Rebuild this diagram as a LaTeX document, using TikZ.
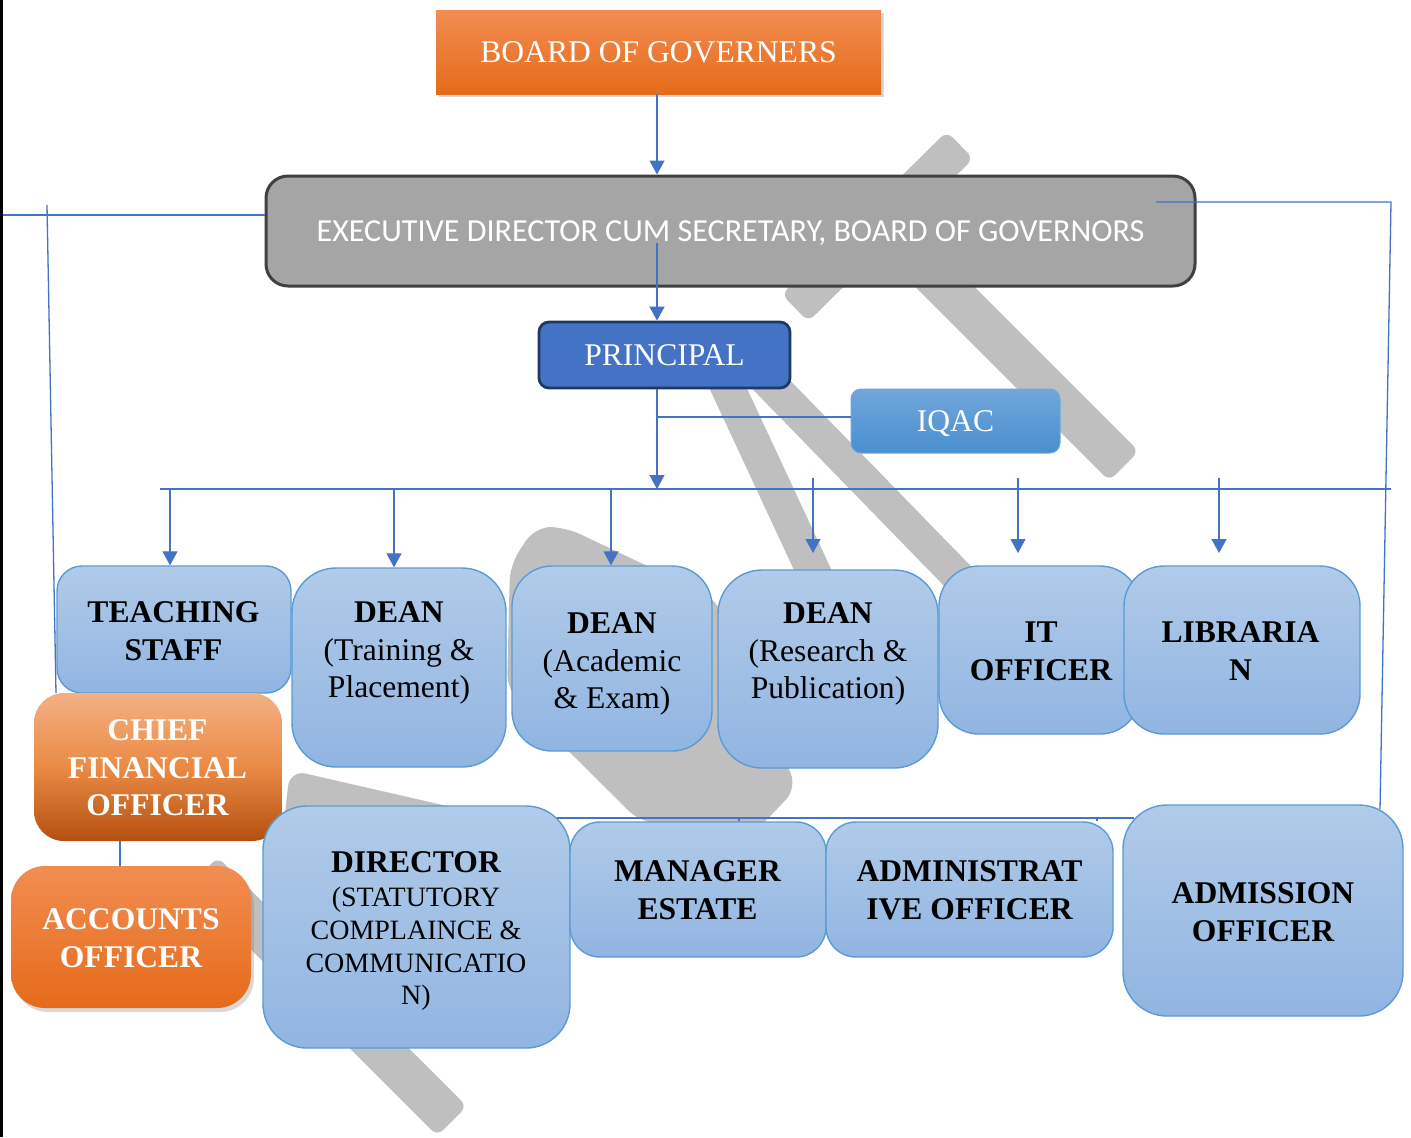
\documentclass[tikz,border=0pt]{standalone}
\usepackage{fontspec}
\setmainfont{Liberation Serif}
\newfontfamily\calibfont{Carlito}
\usetikzlibrary{arrows.meta,calc,shadows}
\definecolor{cblue}{HTML}{4472C4}
\definecolor{wmgray}{HTML}{BFBFBF}
\definecolor{lbtop}{HTML}{B1CBE9}
\definecolor{lbbot}{HTML}{91B5E1}
\definecolor{lbdraw}{HTML}{5B9BD5}
\definecolor{ortop}{HTML}{F28D52}
\definecolor{orbot}{HTML}{E56B1A}
\definecolor{cftop}{HTML}{F4B183}
\definecolor{cfmid}{HTML}{EA8A45}
\definecolor{cfbot}{HTML}{B4500F}
\definecolor{iqtop}{HTML}{70A7DC}
\definecolor{iqbot}{HTML}{4A8ECF}
\definecolor{exfill}{HTML}{A5A5A5}
\definecolor{exdraw}{HTML}{404040}
\definecolor{prfill}{HTML}{4472C4}
\definecolor{prdraw}{HTML}{1F3864}
\newcommand\wmbar[3]{\fill[wm] ($#1!#3!90:#2$) -- ($#2!#3!-90:#1$) -- ($#2!#3!90:#1$) -- ($#1!#3!-90:#2$) -- cycle;}
\tikzset{
  wm/.style={fill=wmgray, rounded corners=4pt},
  conn/.style={draw=cblue, line width=0.65pt},
  arr/.style={conn, -{Triangle[width=7.5pt,length=7pt]}},
  fnt/.style={font=\fontsize{15.8}{18.8}\selectfont},
  txt/.style={fnt, inner sep=0pt, align=center},
  btxt/.style={txt, font=\fontsize{15.8}{18.8}\selectfont\bfseries},
  lbox/.style={draw=lbdraw, line width=0.7pt, top color=lbtop, bottom color=lbbot, inner sep=0pt},
  board/.style={top color=ortop, bottom color=orbot, inner sep=0pt, minimum width=222.5pt, minimum height=42pt, text=white, fnt,
    drop shadow={opacity=0.3, shadow xshift=1.5pt, shadow yshift=-1.5pt}},
  exec/.style={fill=exfill, draw=exdraw, line width=1.5pt, rounded corners=11pt, minimum width=464.5pt, minimum height=55pt,
    inner sep=0pt, text=white, font=\calibfont\fontsize{16.05}{19}\selectfont, text depth=0pt},
  prin/.style={fill=prfill, draw=prdraw, line width=1.4pt, rounded corners=5pt, minimum width=125.5pt, minimum height=33pt,
    inner sep=0pt, text=white, fnt},
  iqac/.style={top color=iqtop, bottom color=iqbot, draw=iqtop, line width=0.5pt, rounded corners=5pt, minimum width=104.5pt,
    minimum height=32pt, inner sep=0pt, text=white, fnt, text depth=0pt},
  cfo/.style={top color=cftop, bottom color=cfbot, middle color=cfmid, inner sep=0pt, rounded corners=15pt},
  acc/.style={top color=ortop, bottom color=orbot, inner sep=0pt, rounded corners=17pt,
    drop shadow={opacity=0.3, shadow xshift=1.5pt, shadow yshift=-2pt}},
}
\begin{document}
\begin{tikzpicture}[x=0.5pt,y=-0.5pt]
\useasboundingbox (0,0) rectangle (1411,1137);
\fill[white] (0,0) rectangle (1411,1137);
\draw[black, line width=1.2pt] (1.5,0) -- (1.5,1137);
% watermark
\wmbar{(795,308)}{(960,145)}{9.5pt}
\wmbar{(880,222)}{(1124,466)}{10.5pt}
\wmbar{(701,330)}{(850,650)}{8.5pt}
\wmbar{(718,330)}{(1010,630)}{8.25pt}
\fill[wm, rounded corners=8pt] (510,565) -- (535,527) -- (565,527) -- (715,598) -- (797,788) -- (755,832) -- (640,822) -- (507,690) -- cycle;
\fill[wm, rounded corners=8pt] (290,770) -- (565,833) -- (542,1050) -- (266,975) -- cycle;
\wmbar{(203,872)}{(452,1121)}{10.5pt}
% top boxes
\node[board] (board) at (658.5,52) {BOARD OF GOVERNERS};
\node[exec] (exec) at (730.5,231) {EXECUTIVE DIRECTOR CUM SECRETARY, BOARD OF GOVERNORS};
\node[prin] (prin) at (664.5,355) {PRINCIPAL};
\node[iqac] (iqac) at (955.5,421) {IQAC};
% lower boxes
\node[lbox, rounded corners=12.5pt, minimum width=117pt, minimum height=63.5pt] (ts) at (174,629.5) {};
\node[lbox, rounded corners=22pt, minimum width=107pt, minimum height=99.5pt] (dt) at (399,667.5) {};
\node[lbox, rounded corners=20pt, minimum width=100pt, minimum height=92.5pt] (da) at (612,658.5) {};
\node[lbox, rounded corners=22pt, minimum width=110pt, minimum height=99pt] (dr) at (828,669) {};
\node[lbox, rounded corners=20pt, minimum width=100.5pt, minimum height=84pt] (it) at (1039.5,650) {};
\node[lbox, rounded corners=20pt, minimum width=118pt, minimum height=84pt] (lib) at (1242,650) {};
\node[cfo, minimum width=124pt, minimum height=74pt] (cfo) at (158,767) {};
\node[acc, minimum width=120pt, minimum height=71pt] (acc) at (131,937) {};
\node[lbox, rounded corners=22pt, minimum width=153.5pt, minimum height=121pt] (dir) at (416.5,927) {};
\node[lbox, rounded corners=15pt, minimum width=128pt, minimum height=67.5pt] (man) at (698,889.5) {};
\node[lbox, rounded corners=15pt, minimum width=143.5pt, minimum height=67.5pt] (adm) at (969.5,889.5) {};
\node[lbox, rounded corners=22pt, minimum width=140pt, minimum height=105.5pt] (ado) at (1263,910.5) {};
% texts
\node[btxt] (tsT) at (173.5,631) {TEACHING\\STAFF};
\node[txt] (dtT) at (399,653) {\textbf{DEAN}\\(Training \&\\Placement)};
\node[txt] (daT) at (612,664) {\textbf{DEAN}\\(Academic\\\& Exam)};
\node[txt] (drT) at (828,654) {\textbf{DEAN}\\(Research \&\\Publication)};
\node[btxt] (itT) at (1041,651) {IT\\OFFICER};
\node[btxt] (libT) at (1240.5,651) {LIBRARIA\\N};
\node[btxt, text=white] (cfoT) at (157.5,768) {CHIEF\\FINANCIAL\\OFFICER};
\node[btxt, text=white] (accT) at (131,938) {ACCOUNTS\\OFFICER};
\node[btxt] (dirA) at (416,862) {DIRECTOR};
\node[txt, font=\fontsize{14}{16.3}\selectfont] (dirB) at (416,949) {(STATUTORY\\COMPLAINCE \&\\COMMUNICATIO\\N)};
\node[btxt] (manT) at (697.5,890) {MANAGER\\ESTATE};
\node[btxt] (admT) at (969.5,890) {ADMINISTRAT\\IVE OFFICER};
\node[btxt] (adoT) at (1263,912) {ADMISSION\\OFFICER};
% connectors
\coordinate (bs) at (657,94);
\draw[arr] (bs) -- (bs |- exec.north);
\coordinate (ep) at (657,243);
\draw[arr] (ep) -- (ep |- prin.north);
\coordinate (bus0) at (160,489);
\coordinate (bus1) at (1391,489);
\draw[conn] (bus0) -- (bus1);
\draw[arr] (prin.south -| bs) -- (bs |- bus0);
\coordinate (iq) at (657,417);
\draw[conn] (iq) -- (iq -| iqac.west);
\coordinate (t1) at (170,489); \draw[arr] (t1) -- (t1 |- ts.north);
\coordinate (t2) at (394,489); \draw[arr] (t2) -- (t2 |- dt.north);
\coordinate (t3) at (611,489); \draw[arr] (t3) -- (t3 |- da.north);
\coordinate (t4a) at (813,478); \coordinate (t4b) at (813,553); \draw[arr] (t4a) -- (t4b);
\coordinate (t5a) at (1018,478); \coordinate (t5b) at (1018,553); \draw[arr] (t5a) -- (t5b);
\coordinate (t6a) at (1219,478); \coordinate (t6b) at (1219,553); \draw[arr] (t6a) -- (t6b);
\coordinate (el) at (3,215);
\draw[conn] (el) -- (el -| exec.west);
\coordinate (lv1) at (47,205); \coordinate (lv2) at (56,693);
\draw[conn] (lv1) -- (lv2);
\coordinate (er0) at (1156,202); \coordinate (er1) at (1391,202); \coordinate (er2) at (1380,809);
\draw[conn] (er0) -- (er1) -- (er2);
\coordinate (lb0) at (557,818); \coordinate (lb1) at (1134,818);
\draw[conn] (lb0) -- (lb1);
\coordinate (k1) at (739,818); \draw[conn] (k1) -- (k1 |- man.north);
\coordinate (k2) at (1097,818); \draw[conn] (k2) -- (k2 |- adm.north);
\coordinate (ca) at (120,841); \draw[conn] (ca) -- (ca |- acc.north);
\end{tikzpicture}
\end{document}
